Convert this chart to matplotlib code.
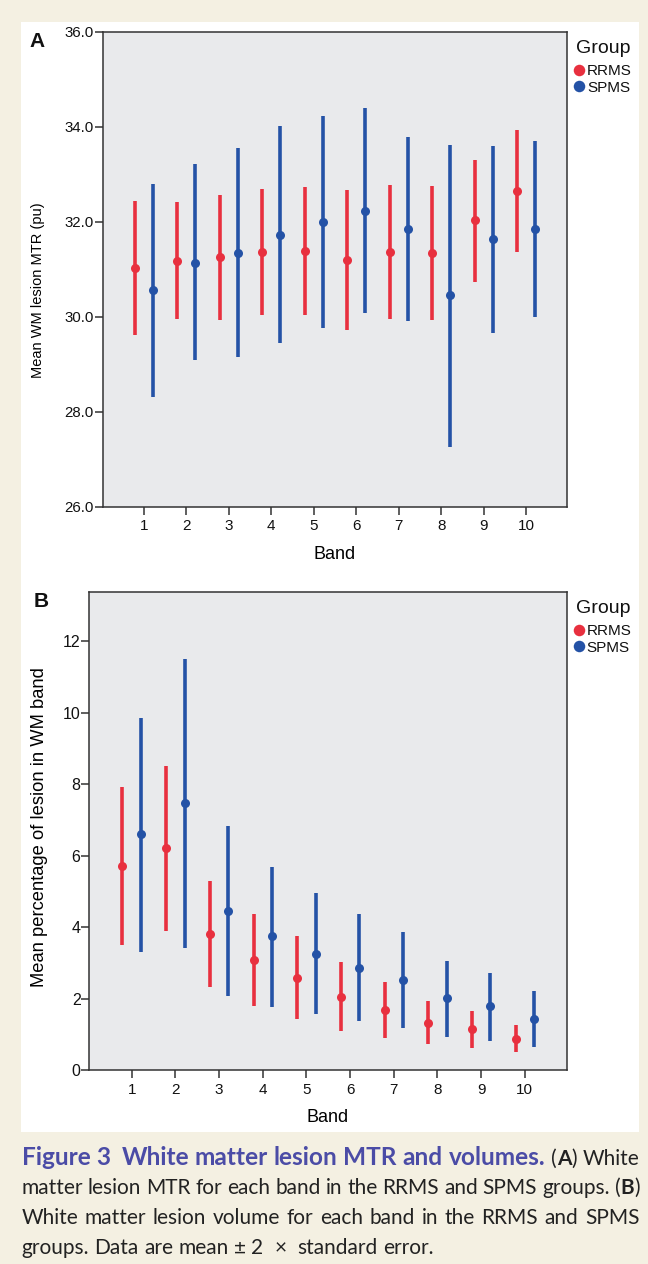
import matplotlib
matplotlib.use("Agg")
import matplotlib.pyplot as plt
from matplotlib.lines import Line2D
from matplotlib.patches import Rectangle
from matplotlib import font_manager
import numpy as np

# ---------------- data ----------------
bands = [1, 2, 3, 4, 5, 6, 7, 8, 9, 10]
groups = ["RRMS", "SPMS"]

# Panel A: mean WM lesion MTR (pu), mean and +/- 2 SE limits
mtr_rrms_mean = [31.03, 31.18, 31.25, 31.36, 31.39, 31.19, 31.37, 31.34, 32.03, 32.65]
mtr_rrms_lo   = [29.62, 29.95, 29.94, 30.03, 30.03, 29.73, 29.96, 29.93, 30.73, 31.36]
mtr_rrms_hi   = [32.43, 32.42, 32.56, 32.69, 32.74, 32.67, 32.78, 32.76, 33.30, 33.93]
mtr_spms_mean = [30.56, 31.14, 31.34, 31.73, 32.00, 32.23, 31.85, 30.46, 31.63, 31.85]
mtr_spms_lo   = [28.31, 29.08, 29.15, 29.44, 29.76, 30.07, 29.92, 27.26, 29.66, 30.00]
mtr_spms_hi   = [32.79, 33.21, 33.55, 34.02, 34.23, 34.39, 33.78, 33.62, 33.59, 33.70]

# Panel B: mean percentage of lesion in WM band
vol_rrms_mean = [5.71, 6.20, 3.80, 3.08, 2.58, 2.05, 1.68, 1.32, 1.14, 0.88]
vol_rrms_lo   = [3.50, 3.90, 2.33, 1.80, 1.44, 1.09, 0.89, 0.73, 0.62, 0.49]
vol_rrms_hi   = [7.93, 8.50, 5.28, 4.36, 3.75, 3.03, 2.47, 1.94, 1.64, 1.26]
vol_spms_mean = [6.59, 7.46, 4.45, 3.75, 3.24, 2.86, 2.52, 2.01, 1.79, 1.44]
vol_spms_lo   = [3.31, 3.40, 2.07, 1.77, 1.56, 1.37, 1.17, 0.93, 0.82, 0.63]
vol_spms_hi   = [9.86, 11.50, 6.83, 5.69, 4.94, 4.35, 3.86, 3.06, 2.72, 2.21]

mtr_yticks = [26.0, 28.0, 30.0, 32.0, 34.0, 36.0]
vol_yticks = [0, 2, 4, 6, 8, 10, 12]

# ---------------- style ----------------
RED = "#e8303f"
BLUE = "#2452a6"
PLOT_BG = "#e9eaec"
BEIGE = "#f4f0e2"
SPINE = "#333333"
CAP_BLUE = "#4b4ca6"
TXT = "#222222"
FONT = ["Liberation Sans", "DejaVu Sans"]
plt.rcParams["font.family"] = FONT
plt.rcParams["text.color"] = "#111111"
plt.rcParams["xtick.color"] = "#111111"
plt.rcParams["ytick.color"] = "#111111"

installed = {f.name for f in font_manager.fontManager.ttflist}
if "Liberation Sans Narrow" in installed:
    A_LABEL_FONT, A_LABEL_SIZE = ["Liberation Sans Narrow"], 12.3
else:
    A_LABEL_FONT, A_LABEL_SIZE = FONT, 10.5

W, H = 648, 1264
fig = plt.figure(figsize=(W / 100, H / 100), dpi=100, facecolor=BEIGE)

# white panel behind the two charts
fig.patches.append(Rectangle((21 / W, 1 - 1132 / H), 618 / W, 1110 / H,
                             transform=fig.transFigure, facecolor="white",
                             edgecolor="none", zorder=-5))

axA = fig.add_axes([102.7 / W, 1 - 506.7 / H, 464.3 / W, 475 / H])
axB = fig.add_axes([89.3 / W, 1 - 1070 / H, 477.4 / W, 478.3 / H])
axA.set_zorder(2)
axB.set_zorder(2)

dodge = 0.21
x = np.array(bands, dtype=float)


def draw(ax, series, ylim, yticks, yfmt, ytick_size, ylabel, ylabel_font, ylabel_size,
         ylabel_y, ylabel_x, letter, letter_x):
    ax.set_facecolor(PLOT_BG)
    for (mean, lo, hi, col, off) in series:
        mean = np.array(mean); lo = np.array(lo); hi = np.array(hi)
        ax.errorbar(x + off, mean, yerr=[mean - lo, hi - mean], fmt="o",
                    color=col, ecolor=col, elinewidth=2.6, capsize=0,
                    markersize=6.5, markeredgewidth=0, zorder=3)
    ax.set_xlim(0.03, 10.96)
    ax.set_ylim(*ylim)
    ax.set_xticks(bands)
    ax.set_xticklabels([str(b) for b in bands], fontsize=11)
    ax.set_yticks(yticks)
    ax.set_yticklabels([yfmt.format(t) for t in yticks], fontsize=ytick_size)
    for s in ax.spines.values():
        s.set_color(SPINE)
        s.set_linewidth(1.1)
    ax.tick_params(axis="x", length=6, width=1.1, color=SPINE, pad=3.2)
    ax.tick_params(axis="y", length=5.5, width=1.1, color=SPINE, pad=0.8)
    ax.set_xlabel("Band", fontsize=13, labelpad=9)
    ax.set_ylabel(ylabel, fontsize=ylabel_size, family=ylabel_font)
    ax.yaxis.set_label_coords(ylabel_x, ylabel_y)
    handles = [Line2D([], [], marker="o", linestyle="none", color=RED, markersize=8.3,
                      markeredgewidth=0),
               Line2D([], [], marker="o", linestyle="none", color=BLUE, markersize=8.3,
                      markeredgewidth=0)]
    leg = ax.legend(handles, groups, title="Group", loc="upper left",
                    bbox_to_anchor=(1.0, 0.998), frameon=False, fontsize=11,
                    title_fontsize=14, handlelength=0.6, handletextpad=0.2,
                    borderpad=0.2, borderaxespad=0.3, labelspacing=0.15)
    leg._legend_box.sep = 5
    ax.text(letter_x, 1.0, letter, transform=ax.transAxes,
            fontsize=15, fontweight="bold", ha="center", va="top")


draw(axA,
     [(mtr_rrms_mean, mtr_rrms_lo, mtr_rrms_hi, RED, -dodge),
      (mtr_spms_mean, mtr_spms_lo, mtr_spms_hi, BLUE, dodge)],
     (26.0, 36.0), mtr_yticks, "{:.1f}", 10.8, "Mean WM lesion MTR (pu)", A_LABEL_FONT,
     A_LABEL_SIZE, 0.456, -0.124, "A", -0.141)
draw(axB,
     [(vol_rrms_mean, vol_rrms_lo, vol_rrms_hi, RED, -dodge),
      (vol_spms_mean, vol_spms_lo, vol_spms_hi, BLUE, dodge)],
     (0, 13.38), vol_yticks, "{:d}", 11.5, "Mean percentage of lesion in WM band", FONT,
     13.2, 0.507, -0.0865, "B", -0.10)

# ---------------- caption (justified) ----------------
CAP_FONT = ["Lato", "DejaVu Sans"]
B_ = "bold"
N_ = "normal"
T_ = "title"
lines = [
    [[("Figure", T_, CAP_BLUE)], [("3", T_, CAP_BLUE)], None,
     [("White", T_, CAP_BLUE)], [("matter", T_, CAP_BLUE)], [("lesion", T_, CAP_BLUE)],
     [("MTR", T_, CAP_BLUE)], [("and", T_, CAP_BLUE)], [("volumes.", T_, CAP_BLUE)],
     [("(", N_, TXT), ("A", B_, TXT), (")", N_, TXT)],
     [("White", N_, TXT)]],
    [[(w, N_, TXT)] for w in "matter lesion MTR for each band in the RRMS and SPMS groups.".split()]
    + [[("(", N_, TXT), ("B", B_, TXT), (")", N_, TXT)]],
    [[(w, N_, TXT)] for w in "White matter lesion volume for each band in the RRMS and SPMS".split()],
    [[(w, N_, TXT)] for w in "groups. Data are mean \u00b1 2  \u00d7  standard error.".split(" ")],
]
baselines = [1165, 1194, 1224, 1254]
left_px, right_px = 21.5, 639.5
avail = right_px - left_px

renderer = fig.canvas.get_renderer()
scale = {"title": 1.0}


def props(kind, size):
    if kind == T_:
        return dict(fontsize=size * scale["title"], fontweight="bold")
    return dict(fontsize=size, fontweight=kind)


def measure(s, kind, size):
    if not s:
        return 0.0
    t = fig.text(0, 0, s, family=CAP_FONT, **props(kind, size))
    bb = t.get_window_extent(renderer=renderer)
    t.remove()
    return bb.width


def word_w(word, size):
    return sum(measure(s, k, size) for s, k, _ in word)


def natural(ln, size, sp, factor):
    ws = [w for w in ln if w is not None]
    extra = sum(1 for w in ln if w is None)
    return sum(word_w(w, size) for w in ws) + sp * (factor * (len(ws) - 1) + extra)


base_size = 14.0
sp0 = measure("a a", N_, base_size) - measure("aa", N_, base_size)
size = min(base_size * avail / natural(ln, base_size, sp0, 0.9) for ln in lines[1:3])
space_w = measure("a a", N_, size) - measure("aa", N_, size)
# enlarge the bold title so that line 1 sets with normal word spacing
for _ in range(3):
    nat1 = natural(lines[0], size, space_w, 1.0)
    scale["title"] *= min(1.15, max(1.0, (avail / nat1) ** 0.9))

for i, ln in enumerate(lines):
    y = 1 - baselines[i] / H
    items = []
    extra = 0.0
    for w in ln:
        if w is None:
            extra += space_w
            continue
        items.append((w, extra))
        extra = 0.0
    widths = [word_w(w, size) for w, _ in items]
    extras = sum(e for _, e in items)
    if i < 3:
        gap = (avail - sum(widths) - extras) / (len(items) - 1)
    else:
        gap = space_w
    xpos = left_px
    for (w, e), wd in zip(items, widths):
        xpos += e
        xx = xpos
        for s, k, col in w:
            if s:
                fig.text(xx / W, y, s, color=col, family=CAP_FONT, ha="left",
                         va="baseline", **props(k, size))
            xx += measure(s, k, size)
        xpos += wd + gap

fig.savefig("out.png", dpi=100, facecolor=BEIGE)
